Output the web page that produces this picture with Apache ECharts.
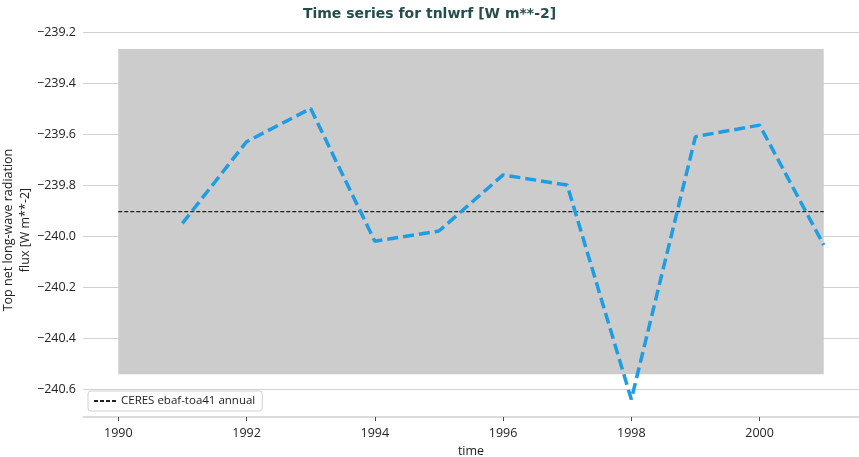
<!DOCTYPE html>
<html>
<head>
<meta charset="utf-8">
<script src="https://cdn.jsdelivr.net/npm/echarts@6/dist/echarts.min.js"></script>
<style>
html,body{margin:0;padding:0;background:#fff;}
#chart{width:859px;height:457px;}
</style>
</head>
<body>
<div id="chart"></div>
<script>
// Data
var years = [1991, 1992, 1993, 1994, 1995, 1996, 1997, 1998, 1999, 2000, 2001];
var values = [-239.95, -239.63, -239.50, -240.02, -239.98, -239.76, -239.80, -240.64, -239.61, -239.565, -240.035];
var refName = 'CERES ebaf-toa41 annual';
var refValue = -239.904;
var bandYears = [1990, 2001];
var bandRange = [-240.541, -239.267];
var xTicks = [1990, 1992, 1994, 1996, 1998, 2000];
var yTicks = [-240.6, -240.4, -240.2, -240.0, -239.8, -239.6, -239.4, -239.2];
var yTitle = 'Top net long-wave radiation\nflux [W m**-2]';

var font = '"Open Sans", "DejaVu Sans", sans-serif';
var chart = echarts.init(document.getElementById('chart'), null, {renderer: 'canvas'});

var option = {
  animation: false,
  backgroundColor: '#ffffff',
  title: {
    text: 'Time series for tnlwrf [W m**-2]',
    left: 'center',
    top: 2,
    textStyle: {fontFamily: '"DejaVu Sans", sans-serif', fontSize: 14, fontWeight: 'bold', color: '#264d4d'}
  },
  graphic: [{
    type: 'text',
    x: 16.5,
    y: 230,
    rotation: Math.PI / 2,
    style: {
      text: yTitle,
      font: '12.5px ' + font,
      fill: '#222',
      align: 'center',
      verticalAlign: 'middle',
      lineHeight: 17
    }
  }],
  legend: {
    data: [refName],
    left: 88,
    top: 391,
    orient: 'vertical',
    backgroundColor: '#ffffff',
    borderColor: '#d0d0d0',
    borderWidth: 1,
    borderRadius: 3,
    padding: [4, 7, 4, 5],
    itemWidth: 22,
    itemHeight: 10,
    itemGap: 6,
    itemStyle: {opacity: 0},
    textStyle: {fontFamily: font, fontSize: 11.5, color: '#222'}
  },
  grid: {left: 83, right: 0, top: 31.5, bottom: 40, containLabel: false, outerBoundsMode: 'none'},
  xAxis: {
    type: 'value',
    min: 1989.45,
    max: 2001.55,
    name: 'time',
    nameLocation: 'middle',
    nameGap: 27,
    nameTextStyle: {fontFamily: font, fontSize: 12.5, color: '#222'},
    axisLine: {show: true, lineStyle: {color: '#cfcfcf', width: 1.5}},
    axisTick: {show: true, customValues: xTicks, length: 4, lineStyle: {color: '#444', width: 1}},
    axisLabel: {customValues: xTicks, fontFamily: font, fontSize: 12.5, color: '#222', margin: 10,
      formatter: function (v) { return String(Math.round(v)); }},
    splitLine: {show: false}
  },
  yAxis: {
    type: 'value',
    min: -240.709,
    max: -239.198,
    z: 1,
    axisLine: {show: false},
    axisTick: {show: false, customValues: yTicks},
    axisLabel: {customValues: yTicks, fontFamily: font, fontSize: 12.5, color: '#222', margin: 7,
      formatter: function (v) { return v.toFixed(1).replace('-', '\u2212'); }},
    splitLine: {show: true, lineStyle: {color: 'rgba(0,0,0,0.18)', width: 1}}
  },
  series: [
    {
      name: 'band',
      type: 'line',
      z: 0,
      data: [],
      silent: true,
      markArea: {
        silent: true,
        itemStyle: {color: '#cccccc'},
        data: [[{xAxis: bandYears[0], yAxis: bandRange[1]}, {xAxis: bandYears[1], yAxis: bandRange[0]}]]
      }
    },
    {
      name: refName,
      type: 'line',
      z: 2,
      symbol: 'none',
      showSymbol: false,
      data: [[bandYears[0], refValue], [bandYears[1], refValue]],
      lineStyle: {color: '#222222', width: 1.1, type: [4, 2]},
      itemStyle: {color: '#222222'}
    },
    {
      name: 'model',
      type: 'line',
      z: 3,
      symbol: 'none',
      showSymbol: false,
      data: years.map(function (y, i) { return [y, values[i]]; }),
      lineStyle: {color: '#1f9de3', width: 3.5, type: [11, 5]},
      itemStyle: {color: '#1f9de3'}
    }
  ]
};
chart.setOption(option);
</script>
</body>
</html>
